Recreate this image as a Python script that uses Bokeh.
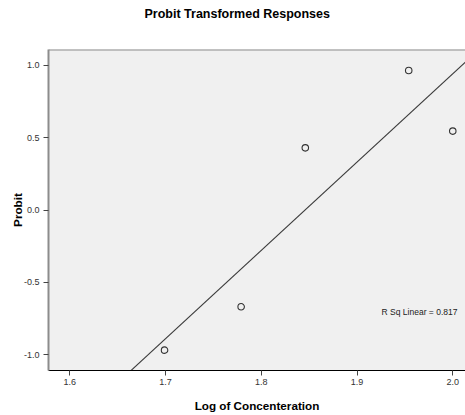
import numpy as np
from bokeh.plotting import figure
from bokeh.models import Label, Span, FixedTicker, Range1d, Title
from bokeh.embed import file_html
from bokeh.resources import INLINE

# ---- data ----
log_conc = [1.699, 1.779, 1.846, 1.954, 2.000]
probit = [-0.97, -0.67, 0.43, 0.965, 0.546]
x_ticks = [1.6, 1.7, 1.8, 1.9, 2.0]
y_ticks = [-1.0, -0.5, 0.0, 0.5, 1.0]
r_sq = 0.817

title_text = "Probit Transformed Responses"
x_label = "Log of Concenteration"
y_label = "Probit"

FONT = "Liberation Sans"

p = figure(width=465, height=415, output_backend="svg", toolbar_location=None,
           x_range=Range1d(1.5778, 2.0133), y_range=Range1d(-1.1107, 1.1107),
           min_border_left=48, min_border_right=0, min_border_top=49,
           min_border_bottom=45)

p.background_fill_color = "#f0f0f0"
p.border_fill_color = "white"
p.outline_line_color = None
p.xgrid.visible = False
p.ygrid.visible = False

p.title.text = title_text
p.title.align = "left"
p.title.offset = 96
p.title.vertical_align = "top"
p.title.standoff = 11
p.title.text_font = FONT
p.title.text_font_size = "12.5px"
p.title.text_font_style = "bold"
p.title.text_color = "black"

# blank spacer between the title and the plot area
spacer = Title(text=" ", text_font=FONT, text_font_size="10px", standoff=8)
p.add_layout(spacer, "above")

top = Span(location=p.y_range.end, dimension="width", line_color="#8c8c8c",
           line_width=2)
p.add_layout(top)

# regression line from the data
slope, intercept = np.polyfit(log_conc, probit, 1)
xs = [p.x_range.start, p.x_range.end]
ys = [slope * x + intercept for x in xs]
p.line(xs, ys, line_color="#3a3a3a", line_width=1.1)

p.scatter(log_conc, probit, marker="circle", size=6.5, fill_color=None,
          line_color="#333333", line_width=1.1)

lab = Label(x=2.0049, y=-0.705, text="R Sq Linear = %.3f" % r_sq,
            text_align="right", text_baseline="middle",
            text_font=FONT, text_font_size="8.5px", text_color="#222222")
p.add_layout(lab)

p.xaxis.ticker = FixedTicker(ticks=x_ticks)
p.yaxis.ticker = FixedTicker(ticks=y_ticks)
p.xaxis.major_label_overrides = {t: "%.1f" % t for t in x_ticks}
p.yaxis.major_label_overrides = {t: "%.1f" % t for t in y_ticks}

for ax in (p.xaxis[0], p.yaxis[0]):
    ax.minor_tick_line_color = None
    ax.major_tick_in = 0
    ax.major_tick_out = 5
    ax.major_tick_line_color = "#444444"
    ax.major_label_text_font = FONT
    ax.major_label_text_font_size = "9px"
    ax.major_label_text_color = "#333333"
    ax.axis_label_text_font = FONT
    ax.axis_label_text_font_size = "11.7px"
    ax.axis_label_text_font_style = "bold"
    ax.axis_label_text_color = "black"

p.xaxis.axis_label = x_label
p.yaxis.axis_label = y_label
p.xaxis.axis_line_color = "black"
p.xaxis.axis_line_width = 1.2
p.yaxis.axis_line_color = "#8c8c8c"
p.yaxis.axis_line_width = 2
p.xaxis.major_label_standoff = 3
p.xaxis.axis_label_standoff = 11
p.yaxis.major_label_standoff = 4
p.yaxis.axis_label_standoff = -3

open("out.html", "w").write(file_html(p, INLINE))
